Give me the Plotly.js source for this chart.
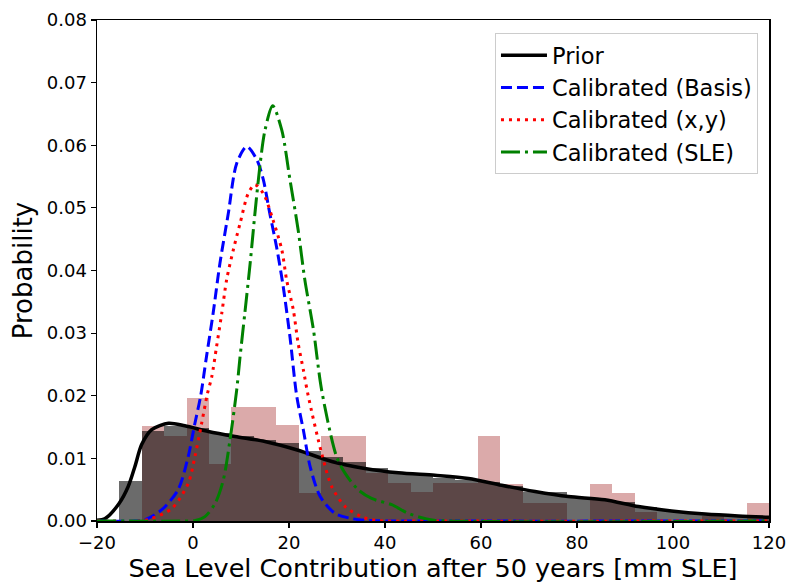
<!DOCTYPE html>
<html>
<head>
<meta charset="utf-8">
<script src="https://cdn.plot.ly/plotly-3.0.1.min.js"></script>
<style>html,body{margin:0;padding:0;background:#fff;}</style>
</head>
<body>
<div id="chart" style="width:788px;height:584px;"></div>
<script>
// Histogram bins (shared)
const binStart = -15.333;
const binWidth = 4.6667;
const priorHist = [0.0064,0.0143,0.0151,0.0148,0.0140,0.0135,0.0130,0.0124,0.0111,0.0103,0.0095,0.0084,0.0077,0.0073,0.0068,0.0065,0.0062,0.0056,0.0047,0.0047,0.0039,0.0034,0.0031,0.0023,0.0016,0.0015,0.0010,0.0009,0.0008];
const calibHist = [0.0000,0.0151,0.0136,0.0196,0.0091,0.0182,0.0182,0.0153,0.0044,0.0136,0.0136,0.0076,0.0060,0.0047,0.0060,0.0060,0.0136,0.0059,0.0029,0.0029,0.0000,0.0059,0.0044,0.0015,0.0000,0.0000,0.0008,0.0000,0.0029];

// Prior density
const priorX = [-20,-18.3,-15.4,-13.5,-12.1,-10.7,-8.6,-5.1,-1.7,3.2,8.75,15.0,21.9,28.9,35.8,42.8,50.4,57.4,64.3,71.25,78.2,85.8,92.8,99.7,106.7,113.6,120];
const priorY = [0.0001,0.0004,0.0028,0.0055,0.0087,0.0122,0.0146,0.0156,0.0152,0.0143,0.0135,0.0127,0.0113,0.0095,0.0084,0.0077,0.0073,0.0068,0.0057,0.0047,0.0039,0.0034,0.0023,0.0016,0.0011,0.0008,0.0006];

// Calibrated (Basis)
const basisX = [-20,-12,-10,-6.5,-3.1,-1.0,0.4,1.6,2.8,4.2,5.6,7.35,9.1,11.2,13.3,14.65,16.0,17.4,18.8,20.2,21.6,23.0,24.4,26.5,29.6,33,36,50,120];
const basisY = [0,0,0.0002,0.0018,0.0050,0.0103,0.0156,0.0200,0.0262,0.0332,0.0411,0.0491,0.0571,0.0598,0.0577,0.0545,0.0491,0.0438,0.0374,0.0294,0.0200,0.0145,0.0087,0.0039,0.0012,0.0004,0.0001,0,0];

// Calibrated (x,y)
const xyX = [-20,-11,-8.6,-4.4,-1.0,0.4,1.8,3.0,3.9,4.9,6.0,7.0,8.4,9.8,11.5,12.9,14.65,16.7,18.5,19.5,20.9,21.9,23.0,24.0,26.8,28.9,31.7,35.1,38,50,120];
const xyY = [0,0,0.0004,0.0020,0.0060,0.0103,0.0156,0.0203,0.0230,0.0278,0.0332,0.0385,0.0433,0.0475,0.0523,0.0537,0.0523,0.0480,0.0433,0.0385,0.0337,0.0284,0.0241,0.0200,0.0108,0.0055,0.0023,0.0007,0.0001,0,0];

// Calibrated (SLE)
const sleX = [-20,-2,0.5,2.5,4.6,6.3,7.7,9.1,9.8,10.8,11.9,12.9,14.0,15.0,16.6,18.5,20.2,21.9,23.3,25.1,26.8,29.9,31.7,34.4,37.2,41.4,44.9,48.3,50.5,120];
const sleY = [0,0,0.0001,0.0007,0.0028,0.0065,0.0129,0.0209,0.0262,0.0332,0.0411,0.0491,0.0571,0.0624,0.0663,0.0624,0.0545,0.0465,0.0385,0.0305,0.0209,0.0103,0.0076,0.0050,0.0036,0.0026,0.0012,0.0004,0.0001,0];

const binCenters = priorHist.map((_, i) => binStart + binWidth * (i + 0.5));

const traces = [
  {type:'bar', x:binCenters, y:calibHist, width:binWidth, marker:{color:'rgba(165,42,42,0.4)', line:{width:0}}, showlegend:false, hoverinfo:'skip'},
  {type:'bar', x:binCenters, y:priorHist, width:binWidth, marker:{color:'rgba(0,0,0,0.58)', line:{width:0}}, showlegend:false, hoverinfo:'skip'},
  {type:'scatter', mode:'lines', name:'Prior', x:priorX, y:priorY, line:{color:'#000000', width:3.5, shape:'spline', smoothing:0.8}},
  {type:'scatter', mode:'lines', name:'Calibrated (Basis)', x:basisX, y:basisY, line:{color:'#0000ff', width:3, dash:'11px,5px', shape:'spline', smoothing:0.8}},
  {type:'scatter', mode:'lines', name:'Calibrated (x,y)', x:xyX, y:xyY, line:{color:'#ff0000', width:3, dash:'3px,5px', shape:'spline', smoothing:0.8}},
  {type:'scatter', mode:'lines', name:'Calibrated (SLE)', x:sleX, y:sleY, line:{color:'#008000', width:3, dash:'19px,5px,3px,5px', shape:'spline', smoothing:0.8}}
];

const layout = {
  width:788, height:584,
  margin:{l:97, r:19, t:20, b:63},
  paper_bgcolor:'#ffffff', plot_bgcolor:'#ffffff',
  font:{family:'DejaVu Sans', color:'#000000', size:17},
  barmode:'overlay', bargap:0,
  showlegend:true,
  xaxis:{
    range:[-20,120], tickvals:[-20,0,20,40,60,80,100,120],
    ticks:'outside', ticklen:5, tickwidth:1.2, tickcolor:'#000',
    showline:true, linecolor:'#000', linewidth:1.5, mirror:true,
    showgrid:false, zeroline:false,
    tickfont:{size:18, family:'DejaVu Sans'},
    title:{text:'Sea Level Contribution after 50 years [mm SLE]', font:{size:25.5, family:'DejaVu Sans'}, standoff:2}
  },
  yaxis:{
    range:[0,0.08], tickvals:[0,0.01,0.02,0.03,0.04,0.05,0.06,0.07,0.08], tickformat:'.2f',
    ticks:'outside', ticklen:5, tickwidth:1.2, tickcolor:'#000',
    showline:true, linecolor:'#000', linewidth:1.5, mirror:true,
    showgrid:false, zeroline:false,
    tickfont:{size:18, family:'DejaVu Sans'},
    title:{text:'Probability', font:{size:26, family:'DejaVu Sans'}, standoff:6}
  },
  legend:{
    x:0.9836, y:0.974, xanchor:'right', yanchor:'top',
    bgcolor:'rgba(255,255,255,0.85)', bordercolor:'#cccccc', borderwidth:1,
    font:{size:22.5, family:'DejaVu Sans'}, itemwidth:46, tracegroupgap:0
  }
};

Plotly.newPlot('chart', traces, layout, {displayModeBar:false, staticPlot:true});
</script>
</body>
</html>
